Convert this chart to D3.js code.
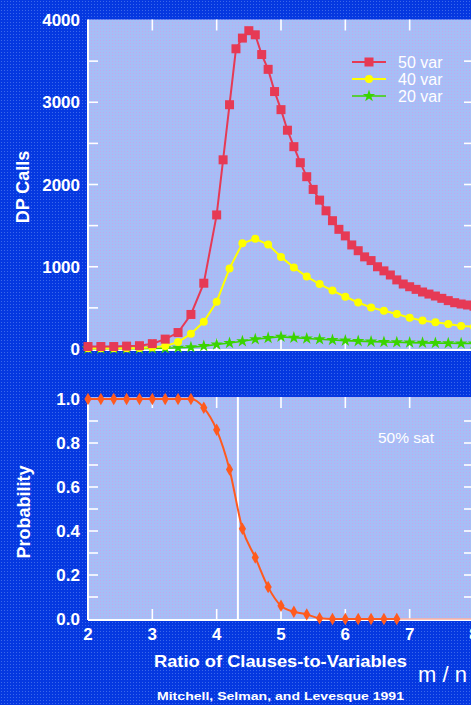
<!DOCTYPE html>
<html><head><meta charset="utf-8">
<script src="https://cdn.jsdelivr.net/npm/d3@7"></script>
<style>
html,body{margin:0;padding:0;background:#0537dc;overflow:hidden;}
svg{display:block;}
text{font-family:"Liberation Sans",Arial,sans-serif;fill:#fff;}
</style></head>
<body>
<svg id="chart" width="471" height="705"></svg>
<script>
// ---- data ----
const ratio50 = [2.0,2.2,2.4,2.6,2.8,3.0,3.2,3.4,3.6,3.8,4.0,4.1,4.2,4.3,4.4,4.5,4.6,4.7,4.8,4.9,5.0,5.1,5.2,5.3,5.4,5.5,5.6,5.7,5.8,5.9,6.0,6.1,6.2,6.3,6.4,6.5,6.6,6.7,6.8,6.9,7.0,7.1,7.2,7.3,7.4,7.5,7.6,7.7,7.8,7.9,8.0];
const calls50 = [30,30,30,35,40,65,120,200,420,800,1630,2300,2970,3650,3780,3870,3820,3580,3400,3130,2910,2660,2460,2265,2095,1940,1810,1680,1560,1455,1375,1265,1195,1120,1075,1000,950,900,840,790,757,725,693,668,644,616,588,563,547,535,520];
const ratio40 = [2.0,2.2,2.4,2.6,2.8,3.0,3.2,3.4,3.6,3.8,4.0,4.2,4.4,4.6,4.8,5.0,5.2,5.4,5.6,5.8,6.0,6.2,6.4,6.6,6.8,7.0,7.2,7.4,7.6,7.8,8.0];
const calls40 = [10,10,10,10,12,20,35,85,185,330,575,980,1285,1340,1270,1120,990,880,790,710,635,565,505,465,425,380,345,325,305,280,270];
const ratio20 = [2.0,2.2,2.4,2.6,2.8,3.0,3.2,3.4,3.6,3.8,4.0,4.2,4.4,4.6,4.8,5.0,5.2,5.4,5.6,5.8,6.0,6.2,6.4,6.6,6.8,7.0,7.2,7.4,7.6,7.8,8.0];
const calls20 = [5,5,5,5,5,8,10,15,22,35,55,72,95,118,135,148,138,128,118,110,102,96,90,86,82,78,75,72,70,68,66];
const probRatio = [2.0,2.2,2.4,2.6,2.8,3.0,3.2,3.4,3.6,3.8,4.0,4.2,4.4,4.6,4.8,5.0,5.2,5.4,5.6,5.8,6.0,6.2,6.4,6.6,6.8];
const probSat = [1,1,1,1,1,1,1,1,1,0.96,0.86,0.68,0.41,0.28,0.145,0.06,0.033,0.021,0.003,0,0,0,0,0,0];
const halfSatRatio = 4.33;
const xTicks = [2,3,4,5,6,7,8];
const callTicks = [0,1000,2000,3000,4000];
const callMinorTicks = [500,1000,1500,2000,2500,3000,3500];
const probTicks = [0,0.2,0.4,0.6,0.8,1.0];
const probMinorTicks = [0.1,0.2,0.3,0.4,0.5,0.6,0.7,0.8,0.9];
const seriesNames = ["50 var","40 var","20 var"];

// ---- drawing ----
const svg = d3.select("#chart");
const W = 471, H = 705;
const defs = svg.append("defs");
const pOut = defs.append("pattern").attr("id","dotsOut").attr("width",3).attr("height",3).attr("patternUnits","userSpaceOnUse");
pOut.append("rect").attr("width",3).attr("height",3).attr("fill","#0538e0");
pOut.append("rect").attr("x",1).attr("y",1).attr("width",1).attr("height",1).attr("fill","#3a68ea");
const pIn = defs.append("pattern").attr("id","dotsIn").attr("width",3).attr("height",3).attr("patternUnits","userSpaceOnUse");
pIn.append("rect").attr("width",3).attr("height",3).attr("fill","#a6bef6");
pIn.append("rect").attr("x",1).attr("y",1).attr("width",1).attr("height",1).attr("fill","#c4a6ec");

svg.append("rect").attr("width",W).attr("height",H).attr("fill","url(#dotsOut)");

const x = d3.scaleLinear().domain([2,8]).range([88,474]);
const yTop = d3.scaleLinear().domain([0,4000]).range([349,20]);
const yBot = d3.scaleLinear().domain([0,1]).range([619,399]);

function panel(y, top, bottom, ticks, minor, fmt) {
  const g = svg.append("g");
  g.append("rect").attr("x",x(2)).attr("y",top).attr("width",x(8)-x(2)+10).attr("height",bottom-top).attr("fill","url(#dotsIn)");
  const tk = g.append("g").attr("stroke","#fff").attr("stroke-width",1.6);
  tk.selectAll(".lt").data(minor).join("line").attr("x1",x(2)).attr("x2",x(2)+10).attr("y1",d=>y(d)).attr("y2",d=>y(d));
  tk.selectAll(".rt").data(minor).join("line").attr("x1",x(8)-10).attr("x2",x(8)).attr("y1",d=>y(d)).attr("y2",d=>y(d));
  const inner = xTicks.filter(d=>d>2&&d<8);
  tk.selectAll(".tt").data(inner).join("line").attr("x1",d=>x(d)).attr("x2",d=>x(d)).attr("y1",top).attr("y2",top+11);
  tk.selectAll(".bt").data(inner).join("line").attr("x1",d=>x(d)).attr("x2",d=>x(d)).attr("y1",bottom-11).attr("y2",bottom);
  g.append("line").attr("x1",x(2)).attr("x2",x(2)).attr("y1",top).attr("y2",bottom).attr("stroke","#fff").attr("stroke-width",2);
  g.append("line").attr("x1",x(2)).attr("x2",W+10).attr("y1",bottom).attr("y2",bottom).attr("stroke","#fff").attr("stroke-width",2);
  g.selectAll(".yl").data(ticks).join("text").attr("x",80).attr("y",d=>y(d)).attr("dy","0.36em")
    .attr("text-anchor","end").attr("font-size",17).attr("font-weight","bold").text(fmt);
  return g;
}

panel(yTop, 19.5, 350, callTicks, callMinorTicks, d=>d3.format("d")(d));
panel(yBot, 397, 620, probTicks, probMinorTicks, d=>d3.format(".1f")(d));

svg.selectAll(".xl").data(xTicks).join("text").attr("x",d=>x(d)).attr("y",640)
  .attr("text-anchor","middle").attr("font-size",17).attr("font-weight","bold").text(d=>d);

svg.append("line").attr("x1",x(halfSatRatio)).attr("x2",x(halfSatRatio)).attr("y1",397).attr("y2",620)
  .attr("stroke","#fff").attr("stroke-width",2);

const colors = {red:"#e63a55", yellow:"#ffff00", green:"#3ad400", orange:"#ff5a1e"};
const lineTop = d3.line().x(d=>x(d[0])).y(d=>yTop(d[1]));
const d50 = ratio50.map((r,i)=>[r,calls50[i]]);
const d40 = ratio40.map((r,i)=>[r,calls40[i]]);
const d20 = ratio20.map((r,i)=>[r,calls20[i]]);

svg.append("path").datum(d20).attr("d",lineTop).attr("fill","none").attr("stroke",colors.green).attr("stroke-width",1.6);
svg.append("g").selectAll("path").data(d20).join("path")
  .attr("transform",d=>`translate(${x(d[0])},${yTop(d[1])})`)
  .attr("d",d3.symbol(d3.symbolStar,48)).attr("fill",colors.green);

svg.append("path").datum(d40).attr("d",lineTop).attr("fill","none").attr("stroke",colors.yellow).attr("stroke-width",2);
svg.append("g").selectAll("circle").data(d40).join("circle")
  .attr("cx",d=>x(d[0])).attr("cy",d=>yTop(d[1])).attr("r",4).attr("fill",colors.yellow);

svg.append("path").datum(d50).attr("d",lineTop).attr("fill","none").attr("stroke",colors.red).attr("stroke-width",2);
svg.append("g").selectAll("rect").data(d50).join("rect")
  .attr("x",d=>x(d[0])-4.5).attr("y",d=>yTop(d[1])-4.5).attr("width",9).attr("height",9).attr("fill",colors.red);

const dp = probRatio.map((r,i)=>[r,probSat[i]]);
const lineBot = d3.line().x(d=>x(d[0])).y(d=>yBot(d[1])).curve(d3.curveMonotoneX);
svg.append("path").datum(dp).attr("d",lineBot).attr("fill","none").attr("stroke",colors.orange).attr("stroke-width",2);
svg.append("line").attr("x1",x(probRatio[probRatio.length-1])).attr("x2",W).attr("y1",yBot(0)).attr("y2",yBot(0))
  .attr("stroke","#ffb0a0").attr("stroke-width",1.5);
svg.append("g").selectAll("path").data(dp).join("path")
  .attr("transform",d=>`translate(${x(d[0])},${yBot(d[1])})`)
  .attr("d",d3.symbol(d3.symbolDiamond,45)).attr("fill",colors.orange);

const leg = svg.append("g");
const legY = [62,79,96];
const legCol = [colors.red, colors.yellow, colors.green];
seriesNames.forEach((n,i)=>{
  leg.append("line").attr("x1",352).attr("x2",386).attr("y1",legY[i]).attr("y2",legY[i]).attr("stroke",legCol[i]).attr("stroke-width",i==2?1.6:2);
  if(i==0) leg.append("rect").attr("x",364.5).attr("y",legY[i]-4.5).attr("width",9).attr("height",9).attr("fill",legCol[i]);
  if(i==1) leg.append("circle").attr("cx",369).attr("cy",legY[i]).attr("r",4).attr("fill",legCol[i]);
  if(i==2) leg.append("path").attr("transform",`translate(369,${legY[i]})`).attr("d",d3.symbol(d3.symbolStar,48)).attr("fill",legCol[i]);
  leg.append("text").attr("x",398).attr("y",legY[i]).attr("dy","0.36em").attr("font-size",16).text(n);
});

svg.append("text").attr("x",378).attr("y",437).attr("dy","0.36em").attr("font-size",15.5).text("50% sat");
svg.append("text").attr("transform","translate(23,187) rotate(-90)").attr("text-anchor","middle").attr("dy","0.36em")
  .attr("font-size",18).attr("font-weight","bold").text("DP Calls");
svg.append("text").attr("transform","translate(24,512) rotate(-90)").attr("text-anchor","middle").attr("dy","0.36em")
  .attr("font-size",18).attr("font-weight","bold").text("Probability");
svg.append("text").attr("x",154).attr("y",667).attr("font-size",16.5).attr("font-weight","bold")
  .attr("textLength",253).attr("lengthAdjust","spacingAndGlyphs").text("Ratio of Clauses-to-Variables");
svg.append("text").attr("x",157).attr("y",700).attr("font-size",11.5).attr("font-weight","bold")
  .attr("textLength",247).attr("lengthAdjust","spacingAndGlyphs").text("Mitchell, Selman, and Levesque 1991");
svg.append("text").attr("x",418).attr("y",682).attr("font-size",22).text("m / n");
</script>
</body></html>
